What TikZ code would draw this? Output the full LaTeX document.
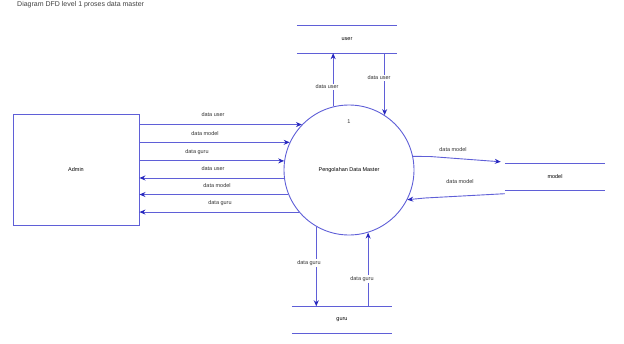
\documentclass[tikz,border=0pt]{standalone}
\usepackage{fontspec}
\setmainfont{Liberation Sans}
\usetikzlibrary{arrows.meta}
\definecolor{lc}{RGB}{95,95,215}
\definecolor{ac}{RGB}{40,40,190}
\begin{document}
\begin{tikzpicture}[x=1pt,y=-1pt,
  flow/.style={draw=lc, line width=0.9pt},
  arr/.style={flow, -{Stealth[length=6pt,width=5pt,color=ac]}},
  lbl/.style={font=\fontsize{5.5}{6}\selectfont, inner sep=1pt, text=black!80},
  vlbl/.style={lbl, fill=white},
  storebox/.style={minimum width=100pt, minimum height=27pt, inner sep=0pt, font=\fontsize{5.5}{6}\selectfont},
  sline/.style={draw=lc, line width=0.9pt}]
\useasboundingbox (0,0) rectangle (624,343);
\node[lbl, anchor=west, font=\fontsize{7}{8}\selectfont, text=black!75] (title) at (16,5) {Diagram DFD level 1 proses data master};
% entity
\node[draw=lc, line width=0.9pt, minimum width=126pt, minimum height=111pt, inner sep=0pt, font=\fontsize{5.5}{6}\selectfont] (admin) at (76,169.5) {Admin};
% process
\node[circle, draw=lc, line width=0.9pt, minimum size=130pt, inner sep=0pt, font=\fontsize{5.5}{6}\selectfont] (c) at (349,170) {Pengolahan Data Master};
\node[lbl] (num) at (349,122) {1};
% stores
\node[storebox] (user) at (347,39.5) {user};
\draw[sline] (user.north west) -- (user.north east);
\draw[sline] (user.south west) -- (user.south east);
\node[storebox] (model) at (555,177) {model};
\draw[sline] (model.north west) -- (model.north east);
\draw[sline] (model.south west) -- (model.south east);
\node[storebox] (guru) at (342,320) {guru};
\draw[sline] (guru.north west) -- (guru.north east);
\draw[sline] (guru.south west) -- (guru.south east);
% left flows
\draw[arr] (admin.east |- c.136.2) -- (c.136.2);
\draw[arr] (admin.east |- c.155.5) -- (c.155.5);
\draw[arr] (admin.east |- c.172.9) -- (c.172.9);
\draw[arr] (c.187.96) -- (admin.east |- c.187.96);
\draw[arr] (c.202.6) -- (admin.east |- c.202.6);
\draw[arr] (c.220.25) -- (admin.east |- c.220.25);
\node[lbl] (l1) at (213,115) {data user};
\node[lbl] (l2) at (205,134) {data model};
\node[lbl] (l3) at (197,152) {data guru};
\node[lbl] (l4) at (213,169) {data user};
\node[lbl] (l5) at (217,186) {data model};
\node[lbl] (l6) at (220,203) {data guru};
% top flows
\draw[arr] (c.104.25) -- (c.104.25 |- user.south);
\draw[arr] (c.57.4 |- user.south) -- (c.57.4);
\node[vlbl] (t1) at (327,87) {data user};
\node[vlbl] (t2) at (379,78) {data user};
% bottom flows
\draw[arr] (c.240.5) -- (c.240.5 |- guru.north);
\draw[arr] (c.287 |- guru.north) -- (c.287);
\node[vlbl] (b1) at (309,263) {data guru};
\node[vlbl] (b2) at (362,279) {data guru};
% right flows
\coordinate (r1) at (430,156.5);
\coordinate (r2) at (425,198);
\draw[arr] (c.12) -- (r1) -- ([xshift=-4pt,yshift=1.5pt]model.north west);
\draw[arr] ([yshift=-3pt]model.south west) -- (r2) -- (c.333);
\node[lbl] (r1l) at (453,150) {data model};
\node[lbl] (r2l) at (460,182) {data model};
\end{tikzpicture}
\end{document}
